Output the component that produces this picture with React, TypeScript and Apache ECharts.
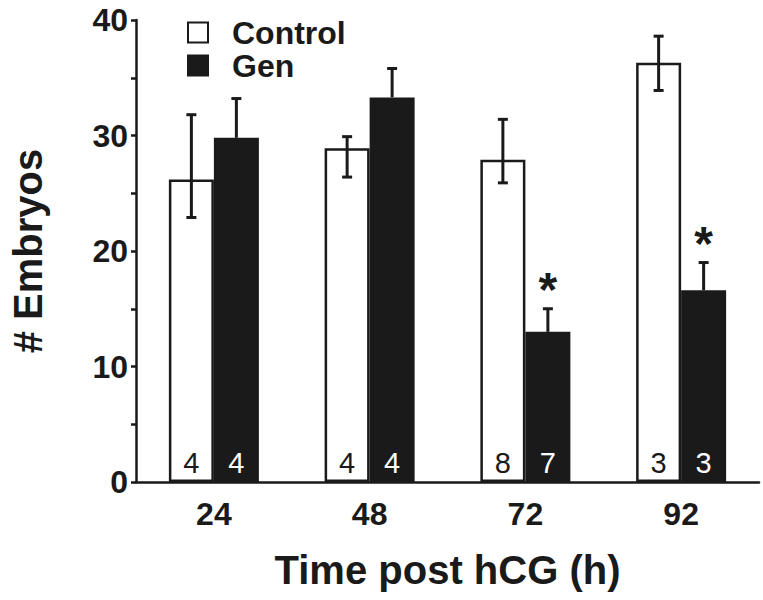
import React, { useEffect, useRef } from "react";
import * as echarts from "echarts";

const categories = ["24", "48", "72", "92"];
const controlValues = [26.2, 28.9, 27.9, 36.3];
const controlErrLow = [22.9, 26.4, 25.9, 33.9];
const controlErrHigh = [31.8, 29.9, 31.4, 38.6];
const genValues = [29.8, 33.3, 13.0, 16.6];
const genErrHigh = [33.2, 35.8, 15.0, 19.0];
const controlN = [4, 4, 8, 3];
const genN = [4, 4, 7, 3];
const significant = [false, false, true, true];
const yTicks = { min: 0, max: 40, interval: 10 };

const FONT = "'Liberation Sans', Arial, Helvetica, sans-serif";
const INK = "#1a1a1a";
const BAR_W = 45;

function errorRenderer(sign: number, lowerCap: boolean) {
  return (params: any, api: any) => {
    const idx = api.value(0);
    const cx = api.coord([idx, 0])[0] + (sign * BAR_W) / 2;
    const yLow = api.coord([idx, api.value(1)])[1];
    const yHigh = api.coord([idx, api.value(2)])[1];
    const star = api.value(3);
    const cap = 5;
    const ls = { stroke: INK, lineWidth: 3 };
    const children: any[] = [
      { type: "line", shape: { x1: cx, y1: yLow, x2: cx, y2: yHigh }, style: ls },
      { type: "line", shape: { x1: cx - cap, y1: yHigh, x2: cx + cap, y2: yHigh }, style: ls },
    ];
    if (lowerCap) {
      children.push({ type: "line", shape: { x1: cx - cap, y1: yLow, x2: cx + cap, y2: yLow }, style: ls });
    }
    if (star) {
      children.push({
        type: "text",
        x: cx,
        y: yHigh - 19,
        style: {
          text: "*",
          fontSize: 48,
          fontWeight: "bold",
          fontFamily: FONT,
          fill: INK,
          align: "center",
          verticalAlign: "middle",
        },
      });
    }
    return { type: "group", children };
  };
}

export default function App() {
  const ref = useRef<HTMLDivElement>(null);
  useEffect(() => {
    if (!ref.current) return;
    const chart = echarts.init(ref.current, undefined, { renderer: "svg" });
    const controlErrData = categories.map((_, i) => [i, controlErrLow[i], controlErrHigh[i], 0]);
    const genErrData = categories.map((_, i) => [i, genValues[i], genErrHigh[i], significant[i] ? 1 : 0]);
    chart.setOption({
      animation: false,
      backgroundColor: "#ffffff",
      textStyle: { fontFamily: FONT },
      grid: { left: 133, right: 4, top: 20, bottom: 118, containLabel: false },
      legend: {
        orient: "vertical",
        left: 187,
        top: 16,
        padding: 0,
        itemWidth: 20,
        itemHeight: 20,
        itemGap: 0,
        icon: "rect",
        data: ["Control", "Gen"],
        textStyle: {
          fontSize: 32,
          fontWeight: "bold",
          fontFamily: FONT,
          color: INK,
          lineHeight: 33,
          padding: [0, 0, 0, 19],
        },
      },
      xAxis: {
        type: "category",
        data: categories,
        name: "Time post hCG (h)",
        nameLocation: "middle",
        nameGap: 68,
        nameTextStyle: { fontSize: 40, fontWeight: "bold", color: INK, fontFamily: FONT },
        axisLine: { lineStyle: { color: INK, width: 2.5 } },
        axisTick: { show: false },
        axisLabel: { fontSize: 32, fontWeight: "bold", color: INK, margin: 16, fontFamily: FONT },
        splitLine: { show: false },
      },
      yAxis: {
        type: "value",
        min: yTicks.min,
        max: yTicks.max,
        interval: yTicks.interval,
        name: "# Embryos",
        nameLocation: "middle",
        nameGap: 88,
        nameTextStyle: { fontSize: 40, fontWeight: "bold", color: INK, fontFamily: FONT },
        axisLine: { show: true, lineStyle: { color: INK, width: 2.5 } },
        axisTick: { show: true, length: 5, lineStyle: { color: INK, width: 2.5 } },
        minorTick: { show: true, splitNumber: 2, length: 5, lineStyle: { color: INK, width: 2.5 } },
        axisLabel: { fontSize: 32, fontWeight: "bold", color: INK, margin: 8, fontFamily: FONT },
        splitLine: { show: false },
      },
      series: [
        {
          name: "Control",
          type: "bar",
          data: controlValues,
          barWidth: BAR_W,
          barGap: "0%",
          itemStyle: { color: "#ffffff", borderColor: INK, borderWidth: 2.5 },
          label: {
            show: true,
            position: "insideBottom",
            distance: 5,
            formatter: (p: any) => String(controlN[p.dataIndex]),
            fontSize: 29,
            color: INK,
            fontFamily: FONT,
          },
          z: 2,
        },
        {
          name: "Gen",
          type: "bar",
          data: genValues,
          barWidth: BAR_W,
          barGap: "0%",
          itemStyle: { color: INK, borderColor: INK, borderWidth: 2.5 },
          label: {
            show: true,
            position: "insideBottom",
            distance: 5,
            formatter: (p: any) => String(genN[p.dataIndex]),
            fontSize: 29,
            color: "#ffffff",
            fontFamily: FONT,
          },
          z: 2,
        },
        {
          name: "ControlErr",
          type: "custom",
          data: controlErrData,
          renderItem: errorRenderer(-1, true),
          z: 5,
          silent: true,
        },
        {
          name: "GenErr",
          type: "custom",
          data: genErrData,
          renderItem: errorRenderer(1, false),
          z: 5,
          silent: true,
        },
      ],
    });
    return () => chart.dispose();
  }, []);
  return <div ref={ref} style={{ width: 763, height: 600, position: "absolute", left: 0, top: 0 }} />;
}
